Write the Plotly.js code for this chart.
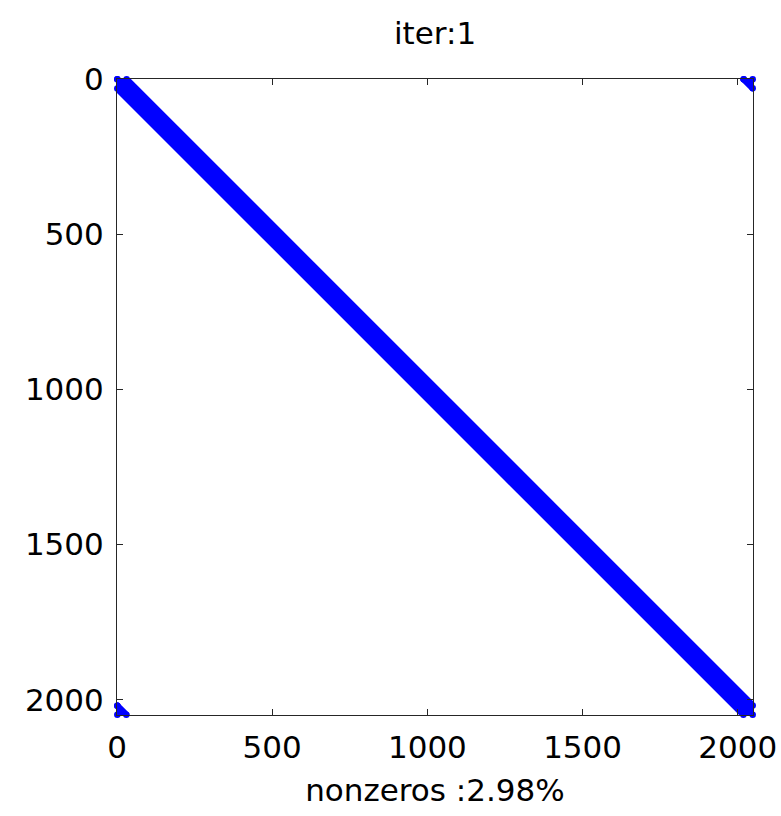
<!DOCTYPE html>
<html>
<head>
<meta charset="utf-8">
<script src="https://cdn.plot.ly/plotly-3.0.1.min.js"></script>
<style>
  html, body { margin: 0; padding: 0; background: #fff; }
  #chart { width: 781px; height: 816px; }
  .scatterlayer path.js-line, .scatterlayer path.js-fill { stroke-linejoin: round; stroke-linecap: round; }
</style>
</head>
<body>
<div id="chart"></div>
<script>
// ---- data: spy plot of a periodic banded sparse matrix ----
const matrixSize = 2048;          // n x n matrix
const halfBandwidth = 30;         // nonzeros where |i-j| <= 30 (mod n)
const xTickVals = [0, 500, 1000, 1500, 2000];
const yTickVals = [0, 500, 1000, 1500, 2000];
const titleText = 'iter:1';
const xLabelText = 'nonzeros :2.98%';

// ---- build nonzero regions from the matrix structure ----
const n = matrixSize, b = halfBandwidth;
// main band (x = column, y = row)
const bandX = [1, 1 + b, n, n, n - b, 1, 1];
const bandY = [1, 1, n - b, n, n, 1 + b, 1];
// periodic wrap-around corners
const trX = [n - b + 1, n, n, n - b + 1];
const trY = [1, 1, b, 1];
const blX = [1, 1, b, 1];
const blY = [n - b + 1, n, n, n - b + 1];

const blue = '#0000ff';
const markW = 6.5;
function region(xs, ys) {
  return {
    type: 'scatter', x: xs, y: ys, mode: 'lines+markers', fill: 'toself',
    fillcolor: blue, line: { color: blue, width: markW },
    marker: { color: blue, size: markW, line: { width: 0 } },
    cliponaxis: false, hoverinfo: 'skip', showlegend: false
  };
}
const traces = [region(bandX, bandY), region(trX, trY), region(blX, blY)];

const font = { family: 'DejaVu Sans, Liberation Sans, Arial, sans-serif', size: 31, color: '#000' };
const axisCommon = {
  range: [0, n + 1], showgrid: false, zeroline: false,
  showline: true, linecolor: '#262626', linewidth: 1, mirror: 'ticks',
  ticks: 'inside', ticklen: 6, tickwidth: 1, tickcolor: '#262626',
  tickfont: font, automargin: false
};
const layout = {
  width: 781, height: 816,
  margin: { l: 117, r: 28, t: 79, b: 101 },
  paper_bgcolor: '#fff', plot_bgcolor: '#fff',
  font: font,
  title: { text: titleText, font: font, x: 0.557, xanchor: 'center', y: 1 - 33 / 816, yanchor: 'middle' },
  xaxis: Object.assign({}, axisCommon, {
    tickvals: xTickVals, ticktext: xTickVals.map(String),
    ticklabelstandoff: 5,
    title: { text: xLabelText, font: font, standoff: 15 }
  }),
  yaxis: Object.assign({}, axisCommon, {
    range: [n + 1, 0], tickvals: yTickVals, ticktext: yTickVals.map(String),
    ticklabelstandoff: 6
  })
};
Plotly.newPlot('chart', traces, layout, { staticPlot: true, displayModeBar: false });
</script>
</body>
</html>
